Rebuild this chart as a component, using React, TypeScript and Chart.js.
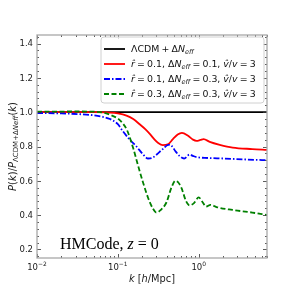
import React, { useEffect, useRef } from "react";
import { Chart, registerables } from "chart.js";
Chart.register(...registerables);

// ---- data ----
const kBlack = [0.01, 7];
const ratioBlack = [1.0, 1.0];

const kRed = [0.01, 0.05, 0.08, 0.1, 0.128, 0.155, 0.186, 0.22, 0.25, 0.285, 0.316, 0.36, 0.415, 0.48, 0.55, 0.62, 0.74, 0.85, 0.94, 1.05, 1.15, 1.37, 1.82, 2.63, 4.6, 7];
const ratioRed = [1.0, 1.0, 0.998, 0.993, 0.98, 0.96, 0.93, 0.9, 0.872, 0.84, 0.82, 0.808, 0.812, 0.843, 0.87, 0.88, 0.862, 0.84, 0.833, 0.838, 0.843, 0.827, 0.81, 0.794, 0.785, 0.78];

const kBlue = [0.01, 0.02, 0.035, 0.05, 0.065, 0.08, 0.1, 0.115, 0.14, 0.17, 0.2, 0.237, 0.27, 0.3, 0.36, 0.42, 0.46, 0.52, 0.58, 0.66, 0.77, 0.85, 0.94, 1.3, 2, 4, 7];
const ratioBlue = [0.995, 0.993, 0.988, 0.982, 0.973, 0.96, 0.93, 0.89, 0.84, 0.8, 0.76, 0.73, 0.735, 0.752, 0.785, 0.81, 0.805, 0.77, 0.745, 0.73, 0.753, 0.745, 0.738, 0.733, 0.73, 0.724, 0.72];

const kGreen = [0.01, 0.03, 0.05, 0.07, 0.085, 0.1, 0.115, 0.13, 0.155, 0.18, 0.205, 0.237, 0.27, 0.3, 0.34, 0.4, 0.46, 0.515, 0.56, 0.61, 0.7, 0.77, 0.875, 1.0, 1.12, 1.23, 1.4, 1.66, 2.63, 4.6, 7];
const ratioGreen = [1.003, 1.004, 1.003, 0.995, 0.98, 0.963, 0.935, 0.895, 0.79, 0.68, 0.59, 0.5, 0.44, 0.415, 0.43, 0.475, 0.56, 0.6, 0.59, 0.56, 0.48, 0.457, 0.47, 0.503, 0.475, 0.45, 0.46, 0.447, 0.43, 0.415, 0.4];

const yTickValues = [0.2, 0.4, 0.6, 0.8, 1.0, 1.2, 1.4];
const yTickLabels = ["0.2", "0.4", "0.6", "0.8", "1.0", "1.2", "1.4"];
const xTickExponents = [-2, -1, 0];
const xTickLabelExp = ["\u22122", "\u22121", "0"];

const SANS = '"DejaVu Sans"';

type Seg = { t: string; it?: boolean; sub?: boolean; sup?: boolean; gap?: number };

function drawRich(ctx: CanvasRenderingContext2D, segs: Seg[], x: number, y: number, size: number, family: string, draw = true): number {
  let cx = x;
  for (const s of segs) {
    const fs = s.sub || s.sup ? size * 0.7 : size;
    ctx.font = `${s.it ? "italic " : ""}${fs}px ${family}`;
    const dy = s.sub ? size * 0.2 : s.sup ? -size * 0.42 : 0;
    if (draw) ctx.fillText(s.t, cx, y + dy);
    cx += ctx.measureText(s.t).width + (s.gap || 0);
  }
  return cx - x;
}

const rowSegs = (r: string, n: string): Seg[] => [
  { t: "r\u0302", it: true, gap: 2.2 }, { t: "=", gap: 2.2 }, { t: r + ", " }, { t: "\u0394" }, { t: "N", it: true }, { t: "eff", it: true, sub: true, gap: 2.2 },
  { t: "=", gap: 2.2 }, { t: n + ", " }, { t: "v\u0302", it: true }, { t: "/" }, { t: "v", it: true, gap: 2.2 }, { t: "=", gap: 2.2 }, { t: "3" },
];

const legendRows: { color: string; dash: number[]; segs: Seg[] }[] = [
  {
    color: "#000000",
    dash: [],
    segs: [{ t: "\u039bCDM", gap: 2.2 }, { t: "+", gap: 2.2 }, { t: "\u0394" }, { t: "N", it: true }, { t: "eff", it: true, sub: true }],
  },
  { color: "#ff0000", dash: [], segs: rowSegs("0.1", "0.1") },
  { color: "#0000ff", dash: [6, 2, 1.5, 2], segs: rowSegs("0.1", "0.3") },
  { color: "#008000", dash: [5, 2.5], segs: rowSegs("0.3", "0.3") },
];

const decorPlugin = {
  id: "decor",
  afterDatasetsDraw(chart: any) {
    const ctx: CanvasRenderingContext2D = chart.ctx;
    const xs = chart.scales.x;
    const ys = chart.scales.y;
    const a = chart.chartArea;
    ctx.save();

    ctx.strokeStyle = "#333333";
    ctx.lineWidth = 0.8;
    const tick = (x1: number, y1: number, x2: number, y2: number) => {
      ctx.beginPath();
      ctx.moveTo(x1, y1);
      ctx.lineTo(x2, y2);
      ctx.stroke();
    };
    for (const v of yTickValues) {
      const y = Math.round(ys.getPixelForValue(v)) + 0.5;
      tick(a.left, y, a.left + 4, y);
      tick(a.right, y, a.right - 4, y);
    }
    for (let i = 4; i <= 36; i++) {
      const v = i * 0.04;
      if (Math.abs(v / 0.2 - Math.round(v / 0.2)) < 1e-6) continue;
      if (v < 0.15 || v > 1.45) continue;
      const y = Math.round(ys.getPixelForValue(v)) + 0.5;
      tick(a.left, y, a.left + 2, y);
      tick(a.right, y, a.right - 2, y);
    }
    for (const e of xTickExponents) {
      for (let m = 1; m <= 9; m++) {
        const v = m * Math.pow(10, e);
        if (v < 0.01 - 1e-9 || v > 7) continue;
        const x = Math.round(xs.getPixelForValue(v)) + 0.5;
        const len = m === 1 ? 4 : 2;
        tick(x, a.bottom, x, a.bottom - len);
        tick(x, a.top, x, a.top + len);
      }
    }

    ctx.strokeStyle = "#a8a8a8";
    ctx.lineWidth = 1.3;
    ctx.strokeRect(a.left, a.top, a.right - a.left, a.bottom - a.top);

    ctx.fillStyle = "#1a1a1a";
    ctx.font = `8.5px ${SANS}`;
    ctx.textAlign = "right";
    ctx.textBaseline = "middle";
    yTickValues.forEach((v, i) => {
      ctx.fillText(yTickLabels[i], a.left - 4, ys.getPixelForValue(v) + 0.5);
    });

    ctx.textAlign = "left";
    ctx.textBaseline = "alphabetic";
    xTickExponents.forEach((e, i) => {
      const segs: Seg[] = [{ t: "10" }, { t: xTickLabelExp[i], sup: true }];
      const w = drawRich(ctx, segs, 0, 0, 8.5, SANS, false);
      const x = xs.getPixelForValue(Math.pow(10, e));
      drawRich(ctx, segs, x - w / 2, a.bottom + 11.5, 8.5, SANS, true);
    });

    {
      const segs: Seg[] = [{ t: "k", it: true }, { t: " [" }, { t: "h", it: true }, { t: "/Mpc]" }];
      const w = drawRich(ctx, segs, 0, 0, 9.8, SANS, false);
      drawRich(ctx, segs, (a.left + a.right) / 2 - w / 2, 281.5, 9.8, SANS, true);
    }

    {
      const segs: Seg[] = [
        { t: "P", it: true }, { t: "(" }, { t: "k", it: true }, { t: ")/" }, { t: "P", it: true },
        { t: "\u039bCDM+\u0394", sub: true }, { t: "N", it: true, sub: true }, { t: "eff", it: true, sub: true, gap: 0 },
        { t: "(" }, { t: "k", it: true }, { t: ")" },
      ];
      const w = drawRich(ctx, segs, 0, 0, 10, SANS, false);
      ctx.save();
      ctx.translate(16, (a.top + a.bottom) / 2);
      ctx.rotate(-Math.PI / 2);
      drawRich(ctx, segs, -w / 2, 0, 10, SANS, true);
      ctx.restore();
    }

    {
      const bx = 101, by = 37, bw = 163, bh = 66, r = 3;
      ctx.beginPath();
      ctx.moveTo(bx + r, by);
      ctx.arcTo(bx + bw, by, bx + bw, by + bh, r);
      ctx.arcTo(bx + bw, by + bh, bx, by + bh, r);
      ctx.arcTo(bx, by + bh, bx, by, r);
      ctx.arcTo(bx, by, bx + bw, by, r);
      ctx.closePath();
      ctx.fillStyle = "rgba(255,255,255,0.8)";
      ctx.fill();
      ctx.strokeStyle = "#d0d0d0";
      ctx.lineWidth = 1;
      ctx.stroke();

      legendRows.forEach((row, i) => {
        const y = 49 + i * 15;
        ctx.strokeStyle = row.color;
        ctx.lineWidth = 1.8;
        ctx.setLineDash(row.dash);
        ctx.beginPath();
        ctx.moveTo(104, y);
        ctx.lineTo(125, y);
        ctx.stroke();
        ctx.setLineDash([]);
        ctx.fillStyle = "#111111";
        ctx.textBaseline = "alphabetic";
        drawRich(ctx, row.segs, 131, y + 3.4, 9.4, SANS, true);
      });
    }

    {
      ctx.fillStyle = "#000000";
      ctx.textBaseline = "alphabetic";
      const segs: Seg[] = [{ t: "HMCode, " }, { t: "z", it: true, gap: 4 }, { t: "=", gap: 4 }, { t: "0" }];
      drawRich(ctx, segs, 60, 249, 16, '"Liberation Serif"', true);
    }

    ctx.restore();
  },
};

export default function App() {
  const ref = useRef<HTMLCanvasElement | null>(null);
  useEffect(() => {
    if (!ref.current) return;
    const mk = (ks: number[], vs: number[]) => ks.map((k, i) => ({ x: k, y: vs[i] }));
    const chart = new Chart(ref.current, {
      type: "scatter",
      data: {
        datasets: [
          { data: mk(kGreen, ratioGreen), borderColor: "#008000", borderDash: [5, 2.5], borderWidth: 1.8, showLine: true, pointRadius: 0, cubicInterpolationMode: "monotone", fill: false } as any,
          { data: mk(kBlue, ratioBlue), borderColor: "#0000ff", borderDash: [6, 2, 1.5, 2], borderWidth: 1.8, showLine: true, pointRadius: 0, cubicInterpolationMode: "monotone", fill: false } as any,
          { data: mk(kRed, ratioRed), borderColor: "#ff0000", borderWidth: 1.8, showLine: true, pointRadius: 0, cubicInterpolationMode: "monotone", fill: false } as any,
          { data: mk(kBlack, ratioBlack), borderColor: "#000000", borderWidth: 1.8, showLine: true, pointRadius: 0, fill: false } as any,
        ],
      },
      options: {
        animation: false,
        responsive: false,
        devicePixelRatio: 1,
        events: [],
        layout: { padding: { left: 37, right: 29, top: 35, bottom: 38 } },
        plugins: { legend: { display: false }, tooltip: { enabled: false }, title: { display: false } },
        scales: {
          x: { type: "logarithmic", min: 0.01, max: 7, display: false },
          y: { type: "linear", min: 0.15, max: 1.45, display: false },
        },
      },
      plugins: [decorPlugin],
    });
    return () => chart.destroy();
  }, []);
  return (
    <div style={{ position: "absolute", left: 0, top: 0, width: 296, height: 296, background: "#fff" }}>
      <canvas ref={ref} width={296} height={296} style={{ width: 296, height: 296, display: "block" }} />
    </div>
  );
}
